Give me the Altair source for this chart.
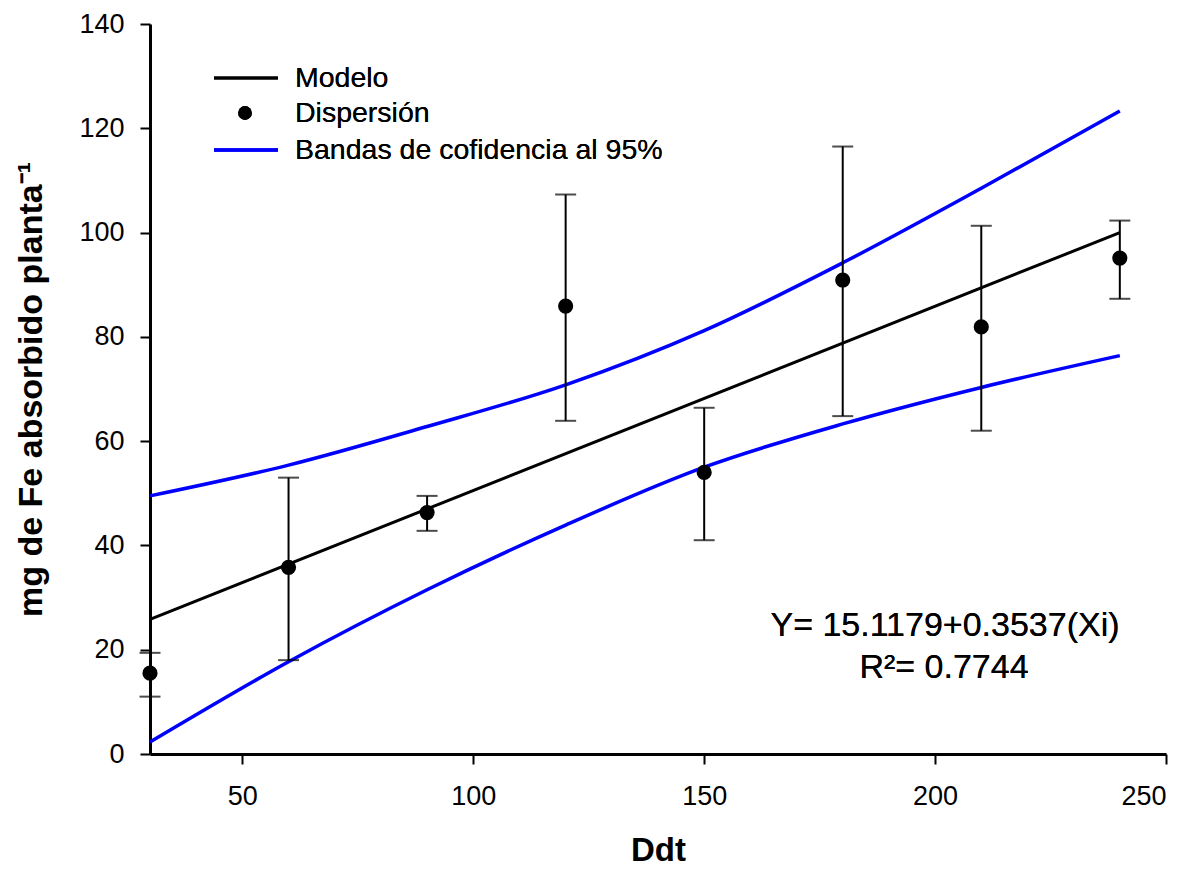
import altair as alt
import pandas as pd

# ---- data ----
ddt = [30, 60, 90, 120, 150, 180, 210, 240]
fe_mean = [15.5, 35.8, 46.3, 85.9, 54.0, 90.9, 81.9, 95.1]
fe_hi = [19.4, 53.0, 49.5, 107.3, 66.4, 116.5, 101.3, 102.3]
fe_lo = [11.0, 18.0, 42.8, 63.9, 41.0, 64.8, 62.0, 87.3]

model_x = [30, 240]
model_y = [25.8, 100.0]

band_x = [30, 60, 90, 120, 150, 180, 210, 240]
band_upper = [49.5, 55.4, 62.8, 70.8, 81.2, 94.2, 108.5, 123.3]
band_lower = [2.3, 17.7, 31.5, 43.9, 55.0, 63.3, 70.3, 76.4]

x_ticks = [50, 100, 150, 200, 250]
y_ticks = [0, 20, 40, 60, 80, 100, 120, 140]

legend_labels = ["Modelo", "Dispersión", "Bandas de cofidencia al 95%"]
eq_text = "Y= 15.1179+0.3537(Xi)"
r2_text = "R²= 0.7744"

FONT = "Liberation Sans"

pts = pd.DataFrame({"x": ddt, "y": fe_mean, "hi": fe_hi, "lo": fe_lo})
model = pd.DataFrame({"x": model_x, "y": model_y})
bands = pd.concat([
    pd.DataFrame({"x": band_x, "y": band_upper, "b": "upper"}),
    pd.DataFrame({"x": band_x, "y": band_lower, "b": "lower"}),
])

xs = alt.Scale(domain=[30, 250], nice=False, zero=False)
ys = alt.Scale(domain=[0, 140], nice=False)

x_axis = alt.Axis(values=x_ticks, title="Ddt", grid=False, tickSize=10, tickWidth=2,
                  domainWidth=3, domainColor="black", tickColor="black",
                  labelFont=FONT, labelFontSize=27, labelColor="black", labelPadding=19,
                  titleFont=FONT, titleFontSize=33, titleFontWeight="bold",
                  titleColor="black", titlePadding=25)
y_axis = alt.Axis(values=y_ticks, title="mg de Fe absorbido planta⁻¹", grid=False,
                  tickSize=10, tickWidth=2, domainWidth=3, domainColor="black",
                  tickColor="black", labelFont=FONT, labelFontSize=27,
                  labelColor="black", labelPadding=16,
                  titleFont=FONT, titleFontSize=34, titleFontWeight="bold",
                  titleColor="black", titlePadding=30)

band_layer = alt.Chart(bands).mark_line(color="#0000FF", strokeWidth=3.5,
                                         interpolate="monotone").encode(
    x=alt.X("x:Q", scale=xs, axis=x_axis),
    y=alt.Y("y:Q", scale=ys, axis=y_axis),
    detail="b:N",
)

model_layer = alt.Chart(model).mark_line(color="black", strokeWidth=3).encode(
    x=alt.X("x:Q", scale=xs), y=alt.Y("y:Q", scale=ys))

err_rule = alt.Chart(pts).mark_rule(color="black", strokeWidth=2).encode(
    x=alt.X("x:Q", scale=xs), y=alt.Y("lo:Q", scale=ys), y2="hi:Q")
cap_hi = alt.Chart(pts).mark_tick(color="black", orient="horizontal", size=21,
                                  thickness=2).encode(
    x=alt.X("x:Q", scale=xs), y=alt.Y("hi:Q", scale=ys))
cap_lo = alt.Chart(pts).mark_tick(color="black", orient="horizontal", size=21,
                                  thickness=2).encode(
    x=alt.X("x:Q", scale=xs), y=alt.Y("lo:Q", scale=ys))
dots = alt.Chart(pts).mark_circle(color="black", size=230, opacity=1).encode(
    x=alt.X("x:Q", scale=xs), y=alt.Y("y:Q", scale=ys))

# ---- legend (drawn inside the plot area) ----
leg_line1 = alt.Chart(model).mark_rule(color="black", strokeWidth=3).encode(
    x=alt.value(64), x2=alt.value(128), y=alt.value(54))
leg_dot = alt.Chart(model).mark_circle(color="black", size=190, opacity=1).encode(
    x=alt.value(95), y=alt.value(89))
leg_line2 = alt.Chart(model).mark_rule(color="#0000FF", strokeWidth=3.5).encode(
    x=alt.value(64), x2=alt.value(128), y=alt.value(126))
leg_texts = []
for lbl, yy in zip(legend_labels, [54, 89, 126]):
    leg_texts.append(
        alt.Chart(model).mark_text(text=lbl, font=FONT, fontSize=28.5, color="black",
                                   align="left", baseline="middle").encode(
            x=alt.value(145), y=alt.value(yy)))

eq1 = alt.Chart(model).mark_text(text=eq_text, font=FONT, fontSize=34, color="black",
                                 align="center", baseline="middle").encode(
    x=alt.value(795), y=alt.value(602))
eq2 = alt.Chart(model).mark_text(text=r2_text, font=FONT, fontSize=34, color="black",
                                 align="center", baseline="middle").encode(
    x=alt.value(794), y=alt.value(644))

chart = alt.layer(
    band_layer, model_layer, err_rule, cap_hi, cap_lo, dots,
    leg_line1, leg_dot, leg_line2, *leg_texts, eq1, eq2,
).properties(
    width=1016, height=730,
    autosize=alt.AutoSizeParams(type="none"),
    padding={"left": 150, "top": 24, "right": 25, "bottom": 115},
    background="white",
).configure_view(stroke=None)

chart.save("out.html", embed_options={"renderer": "svg", "actions": False})
